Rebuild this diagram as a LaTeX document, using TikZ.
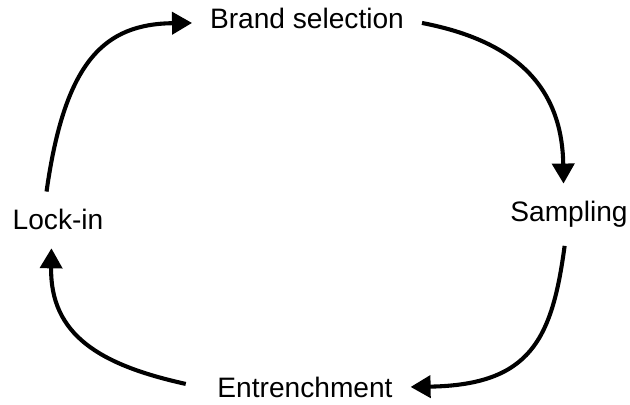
\documentclass[tikz,border=0pt]{standalone}
\usepackage{fontspec}
\setmainfont{Liberation Sans}
\usetikzlibrary{arrows.meta}
\tikzset{
	every path/.style={line width=2.9pt},
	stage/.style={
		font=\fontsize{20}{24}\selectfont,
		inner sep=0.4cm,
		anchor=base,
	},
	flow/.style={
		-{Triangle[length=0.5cm,width=0.55cm]}
	},
}

\begin{document}
\begin{tikzpicture}[x=0.025cm,y=-0.025cm]
	\useasboundingbox (0,0) rectangle (630,405);

	\node[stage] (brand) at (307,29) {Brand selection};
	\node[stage] (sampling) at (569,222) {Sampling};
	\node[stage] (entrench) at (305,397) {Entrenchment};
	\node[stage] (lockin) at (58,230) {Lock-in};

	% the loop, clockwise
	\draw[flow] (lockin.112) .. controls (65,60) and (105,24) .. (brand.182);
	\draw[flow] (brand.358) .. controls (500,38) and (562,75) .. (sampling.100);
	\draw[flow] (sampling.262) .. controls (552,340) and (530,385) .. (entrench.east);
	\draw[flow, shorten <=0.35cm] (entrench.west) .. controls (100,365) and (50,335) .. (lockin.257);

\end{tikzpicture}
\end{document}
